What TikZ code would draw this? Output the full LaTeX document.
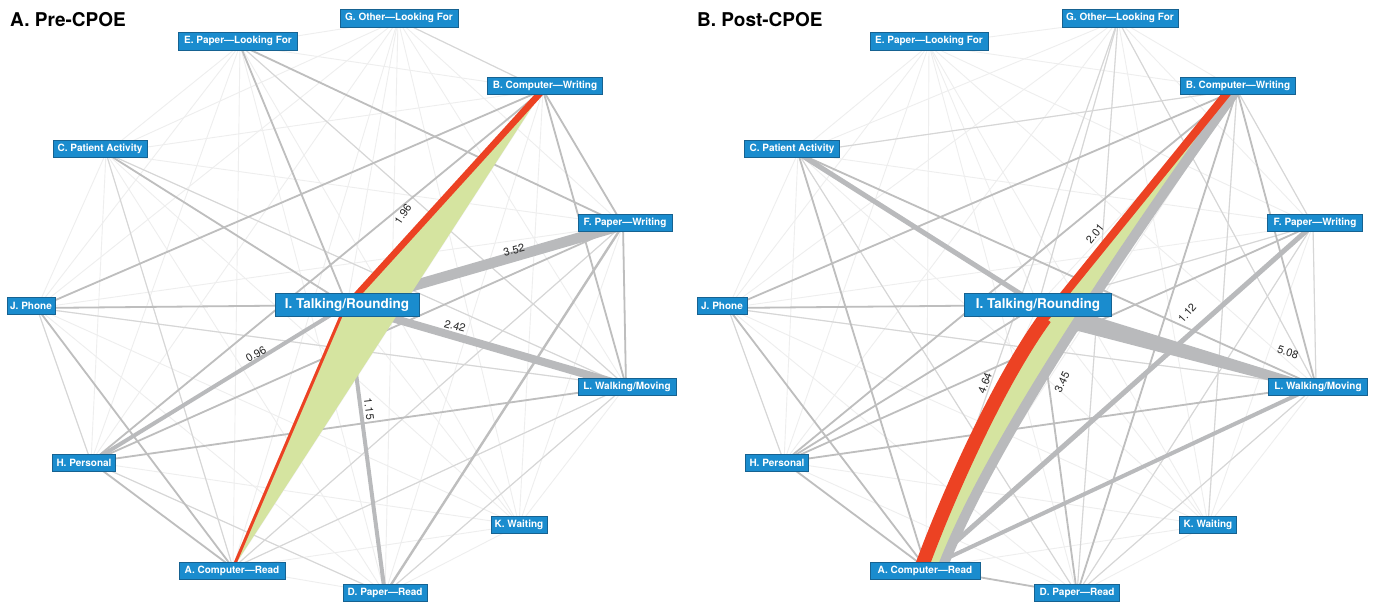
\documentclass[tikz,border=0pt]{standalone}
\usepackage{fontspec}
\setmainfont{TeX Gyre Heros}
\usetikzlibrary{shadows}
\definecolor{nodeblue}{RGB}{26,140,206}
\definecolor{nodeedge}{RGB}{22,98,145}
\definecolor{faintc}{RGB}{238,238,238}
\definecolor{midc}{RGB}{214,214,214}
\definecolor{medc}{RGB}{190,190,190}
\definecolor{heavyc}{RGB}{185,186,188}
\definecolor{redc}{RGB}{236,66,35}
\definecolor{greenc}{RGB}{213,228,160}
\definecolor{labc}{RGB}{40,40,40}
\begin{document}
\begin{tikzpicture}[x=1pt,y=-1pt,
  box/.style={fill=nodeblue, draw=nodeedge, line width=0.5pt, text=white,
    font=\bfseries\fontsize{10}{10}\selectfont, inner sep=0pt, minimum height=17pt,
    drop shadow={shadow xshift=0.8pt,shadow yshift=-0.8pt,opacity=0.35}},
  bigbox/.style={box, font=\bfseries\fontsize{13.5}{14}\selectfont, minimum height=23pt},
  faint/.style={draw=faintc, line width=0.9pt},
  mid/.style={draw=midc, line width=1.1pt},
  med/.style={draw=medc, line width=1.8pt},
  heavy/.style={draw=heavyc},
  elab/.style={text=labc, font=\fontsize{11}{11}\selectfont, inner sep=0pt},
  ttl/.style={font=\bfseries\fontsize{19}{19}\selectfont, anchor=base west, inner sep=0pt}
]
\useasboundingbox (0,0) rectangle (1375,605);
\fill[white] (0,0) rectangle (1375,605);

% ---------- anchor points, panel A ----------
\coordinate (aG) at (398,20);
\coordinate (aE) at (240,45);
\coordinate (aB) at (543,90);
\coordinate (aC) at (106,153);
\coordinate (aF) at (623,225);
\coordinate (aJ) at (37,308);
\coordinate (aI) at (347,305);
\coordinate (aL) at (626,386);
\coordinate (aH) at (91,462);
\coordinate (aK) at (519,525);
\coordinate (aA) at (233,568);
\coordinate (aD) at (385,594);
% ---------- anchor points, panel B ----------
\coordinate (bG) at (1118,20);
\coordinate (bE) at (929,45);
\coordinate (bB) at (1237,90);
\coordinate (bC) at (798,153);
\coordinate (bF) at (1313,225);
\coordinate (bJ) at (728,308);
\coordinate (bI) at (1038,305);
\coordinate (bL) at (1316,386);
\coordinate (bH) at (784,462);
\coordinate (bK) at (1208,525);
\coordinate (bA) at (926,568);
\coordinate (bD) at (1077,594);

% ---------- faint complete graph ----------
\foreach \p in {a,b}{
  \foreach \u [count=\i] in {A,B,C,D,E,F,G,H,I,J,K,L}{
    \foreach \v [count=\j] in {A,B,C,D,E,F,G,H,I,J,K,L}{
      \ifnum\j>\i \draw[faint] (\p\u) -- (\p\v); \fi
    }}}

% ---------- panel A edges ----------
\foreach \u/\v in {J/L, C/L, E/L, A/L, A/F, H/D, D/L, C/A, J/H, G/B}
  \draw[mid] (a\u) -- (a\v);
\foreach \u/\v in {J/I, J/B, C/I, E/I, E/F, B/F, B/L, F/L, H/B, H/F, H/L, H/A, J/A}
  \draw[med] (a\u) -- (a\v);
\draw[med, line width=2.4pt] (aF) -- (aD);
\draw[heavy, line width=4pt] (aI) -- (aH);
\draw[heavy, line width=4pt] (aI) -- (aD);
\draw[heavy, line width=8pt] (aI) -- (aL);
\draw[heavy, line width=10.5pt] (aI) -- (aF);
\coordinate (aIr) at (344,309);
\fill[greenc] (aA) -- (aIr) -- (aB) -- cycle;
\draw[redc, line width=3pt] (aA) -- (aIr);
\draw[redc, line width=6.5pt, line cap=round] (aIr) -- (aB);
\node[elab, rotate=56] (la1) at (403,214) {1.96};
\node[elab, rotate=15] (la2) at (514,250) {3.52};
\node[elab, rotate=-15] (la3) at (455,326) {2.42};
\node[elab, rotate=30] (la4) at (256,354) {0.96};
\node[elab, rotate=-83] (la5) at (369,409) {1.15};

% ---------- panel B edges ----------
\foreach \u/\v in {J/L, J/H, C/D, B/F, B/K, G/A, G/D, G/L, D/F, D/L, F/L, C/B, F/I, G/I}
  \draw[mid] (b\u) -- (b\v);
\foreach \u/\v in {J/I, J/B, J/A, H/I, H/B, H/L, H/A, C/L, C/A, B/L, B/D, D/I, A/D, F/H}
  \draw[med] (b\u) -- (b\v);
\draw[heavy, line width=5pt] (bC) -- (bI);
\draw[heavy, line width=4pt] (bA) -- (bL);
\draw[heavy, line width=5pt] (bA) -- (bF);
% I--L wedge
\fill[heavyc] (1057.3,325.6) -- (1062.7,306.4) -- (1311.1,383.2) -- (1308.9,390.8) -- cycle;
% green region, gray and red paths A -> B
\coordinate (bIr) at (1045,318);
\fill[greenc] (922,563) .. controls (950,490) and (1000,380) .. (bIr) -- (1228,92)
   -- (1235,92) .. controls (1078,311) and (981,468) .. (943,563) -- cycle;
\draw[heavy, line width=10pt] (943,566) .. controls (981,468) and (1078,311) .. (1235,92);
\draw[redc, line width=14pt] (922,566) .. controls (950,490) and (1000,380) .. (bIr);
\draw[redc, line width=8pt, line cap=round] (bIr) -- (1228,92);
\node[elab, rotate=51] (lb1) at (1095,234) {2.01};
\node[elab, rotate=70] (lb2) at (985,383) {4.64};
\node[elab, rotate=64] (lb3) at (1062,382) {3.45};
\node[elab, rotate=48] (lb4) at (1187,313) {1.12};
\node[elab, rotate=-18] (lb5) at (1288,352) {5.08};

% ---------- titles ----------
\node[ttl] (ta) at (10,27) {A. Pre-CPOE};
\node[ttl] (tb) at (697,27) {B. Post-CPOE};

% ---------- node boxes, panel A ----------
\node[box, minimum width=118pt, minimum height=18pt] (nAG) at (399,18) {G. Other---Looking For};
\node[box, minimum width=119pt, minimum height=18pt] (nAE) at (238,41) {E. Paper---Looking For};
\node[box, minimum width=115pt] (nAB) at (545,86) {B. Computer---Writing};
\node[box, minimum width=94pt] (nAC) at (100,149) {C. Patient Activity};
\node[box, minimum width=94pt] (nAF) at (625,223) {F. Paper---Writing};
\node[box, minimum width=48pt] (nAJ) at (31,306) {J. Phone};
\node[bigbox, minimum width=144pt] (nAI) at (347,305) {I. Talking/Rounding};
\node[box, minimum width=98pt] (nAL) at (627,387) {L. Walking/Moving};
\node[box, minimum width=63pt] (nAH) at (84,463) {H. Personal};
\node[box, minimum width=56pt] (nAK) at (519,525) {K. Waiting};
\node[box, minimum width=106pt] (nAA) at (232,571) {A. Computer---Read};
\node[box, minimum width=84pt] (nAD) at (385,593) {D. Paper---Read};

% ---------- node boxes, panel B ----------
\node[box, minimum width=116pt, minimum height=18pt] (nBG) at (1120,18) {G. Other---Looking For};
\node[box, minimum width=118pt, minimum height=18pt] (nBE) at (929,41) {E. Paper---Looking For};
\node[box, minimum width=115pt] (nBB) at (1238,86) {B. Computer---Writing};
\node[box, minimum width=95pt] (nBC) at (792,149) {C. Patient Activity};
\node[box, minimum width=95pt] (nBF) at (1315,223) {F. Paper---Writing};
\node[box, minimum width=50pt] (nBJ) at (722,306) {J. Phone};
\node[bigbox, minimum width=147pt] (nBI) at (1038,305) {I. Talking/Rounding};
\node[box, minimum width=99pt] (nBL) at (1318,387) {L. Walking/Moving};
\node[box, minimum width=63pt] (nBH) at (777,463) {H. Personal};
\node[box, minimum width=57pt] (nBK) at (1208,525) {K. Waiting};
\node[box, minimum width=110pt] (nBA) at (925,571) {A. Computer---Read};
\node[box, minimum width=85pt] (nBD) at (1077,593) {D. Paper---Read};
\end{tikzpicture}
\end{document}
